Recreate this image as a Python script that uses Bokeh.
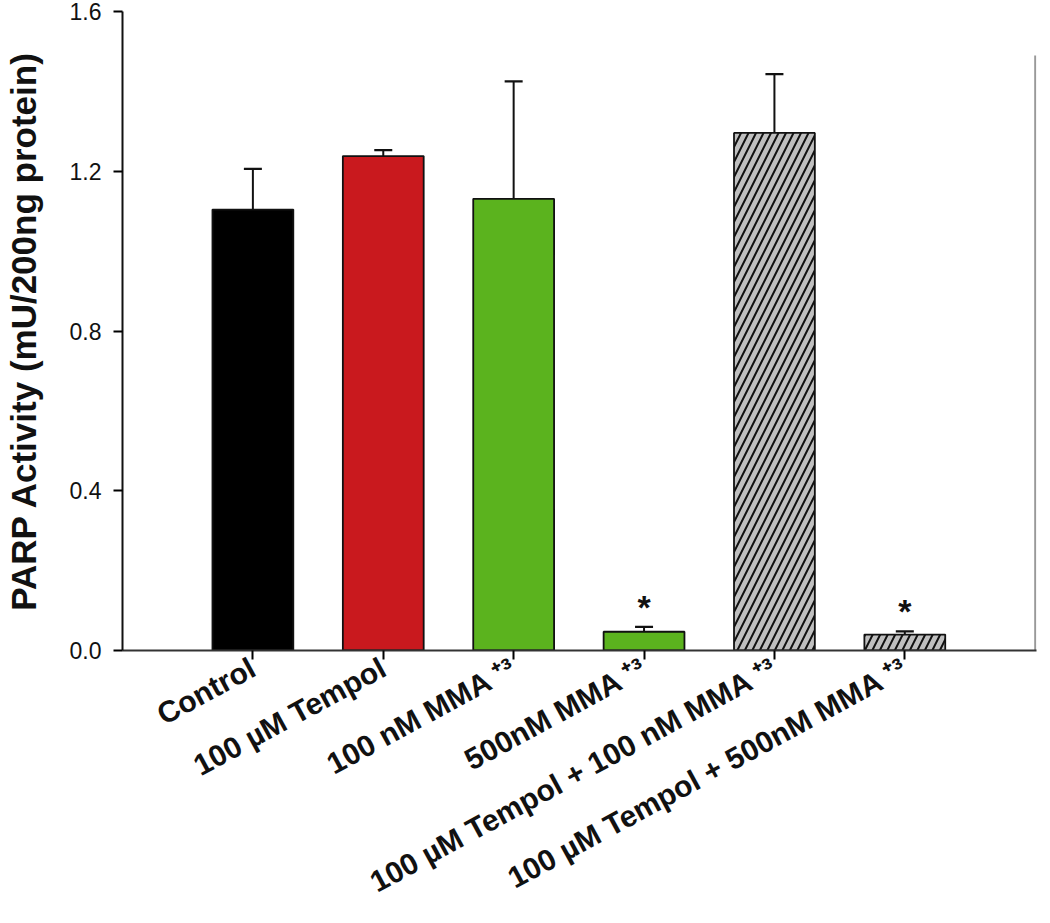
import math
from bokeh.plotting import figure
from bokeh.models import (ColumnDataSource, Range1d, FixedTicker, NumeralTickFormatter,
                          Whisker, TeeHead)
from bokeh.core.properties import value
from bokeh.embed import file_html
from bokeh.resources import INLINE

# ---- data ----
label_main = ["Control", "100 \u00b5M Tempol", "100 nM MMA", "500nM MMA",
              "100 \u00b5M Tempol + 100 nM MMA", "100 \u00b5M Tempol + 500nM MMA"]
label_sup = ["", "", "\u207a\u00b3", "\u207a\u00b3", "\u207a\u00b3", "\u207a\u00b3"]
activity = [1.104, 1.238, 1.131, 0.047, 1.296, 0.040]
sem = [0.102, 0.015, 0.294, 0.012, 0.147, 0.008]
significant = [False, False, False, True, False, True]
y_ticks = [0.0, 0.4, 0.8, 1.2, 1.6]

# ---- styles ----
fills = ["#000000", "#C9191E", "#5BB31E", "#5BB31E", "#BFBFBF", "#BFBFBF"]
hatches = [" ", " ", " ", " ", "/", "/"]
FONT = "Liberation Sans"
INK = "#111111"

xs = list(range(len(label_main)))
tick_text = [m + (" " + s if s else "") for m, s in zip(label_main, label_sup)]
src = ColumnDataSource(dict(x=xs, top=activity, err_lo=activity,
                            err_hi=[a + e for a, e in zip(activity, sem)],
                            fill=fills, hatch=hatches))

p = figure(width=1042, height=915, output_backend="svg", toolbar_location=None,
           x_range=Range1d(-1, 6.01), y_range=Range1d(0, 1.6),
           min_border_left=115, min_border_right=6, min_border_top=11, min_border_bottom=262)
p.outline_line_color = None
p.xgrid.visible = False
p.ygrid.visible = False

p.vbar(x="x", top="top", width=0.62, source=src, fill_color="fill",
       line_color=INK, line_width=1.8,
       hatch_pattern="hatch", hatch_color=INK, hatch_weight=2, hatch_scale=15)

w = Whisker(base="x", lower="err_lo", upper="err_hi", source=src, dimension="height",
            line_color=INK, line_width=2,
            upper_head=TeeHead(size=18, line_color=INK, line_width=2.2),
            lower_head=None)
p.add_layout(w)

# significance markers
sx = [x for x, s in zip(xs, significant) if s]
sy = [activity[i] + sem[i] for i, s in enumerate(significant) if s]
p.text(x=sx, y=sy, text=["*"] * len(sx), text_font=value(FONT), text_font_style="bold",
       text_font_size="34px", text_align="center", text_baseline="alphabetic",
       y_offset=-20, text_color=INK)

# right frame line
p.segment(x0=[6], y0=[0], x1=[6], y1=[1.49], line_color="#999999", line_width=2)

# y axis
ya = p.yaxis[0]
ya.ticker = FixedTicker(ticks=y_ticks)
ya.formatter = NumeralTickFormatter(format="0.0")
ya.axis_label = "PARP Activity (mU/200ng protein)"
ya.axis_label_text_font = FONT
ya.axis_label_text_font_style = "bold"
ya.axis_label_text_font_size = "35px"
ya.axis_label_text_color = INK
ya.axis_label_standoff = 24
ya.major_label_text_font = FONT
ya.major_label_text_font_size = "23px"
ya.major_label_text_color = INK
ya.major_label_standoff = 12
ya.major_tick_out = 9
ya.major_tick_in = 0
ya.minor_tick_out = 0
ya.minor_tick_in = 0
ya.axis_line_width = 2
ya.axis_line_color = INK
ya.major_tick_line_width = 2

# x axis
xa = p.xaxis[0]
xa.ticker = FixedTicker(ticks=xs)
xa.major_label_overrides = {i: t for i, t in zip(xs, tick_text)}
xa.major_label_orientation = math.radians(28.5)
xa.major_label_text_font = FONT
xa.major_label_text_font_style = "bold"
xa.major_label_text_font_size = "30px"
xa.major_label_text_color = INK
xa.major_label_standoff = 6
xa.major_tick_out = 9
xa.major_tick_in = 0
xa.minor_tick_out = 0
xa.minor_tick_in = 0
xa.axis_line_width = 2
xa.axis_line_color = "#333333"
xa.major_tick_line_width = 2

open("out.html", "w").write(file_html(p, INLINE))
